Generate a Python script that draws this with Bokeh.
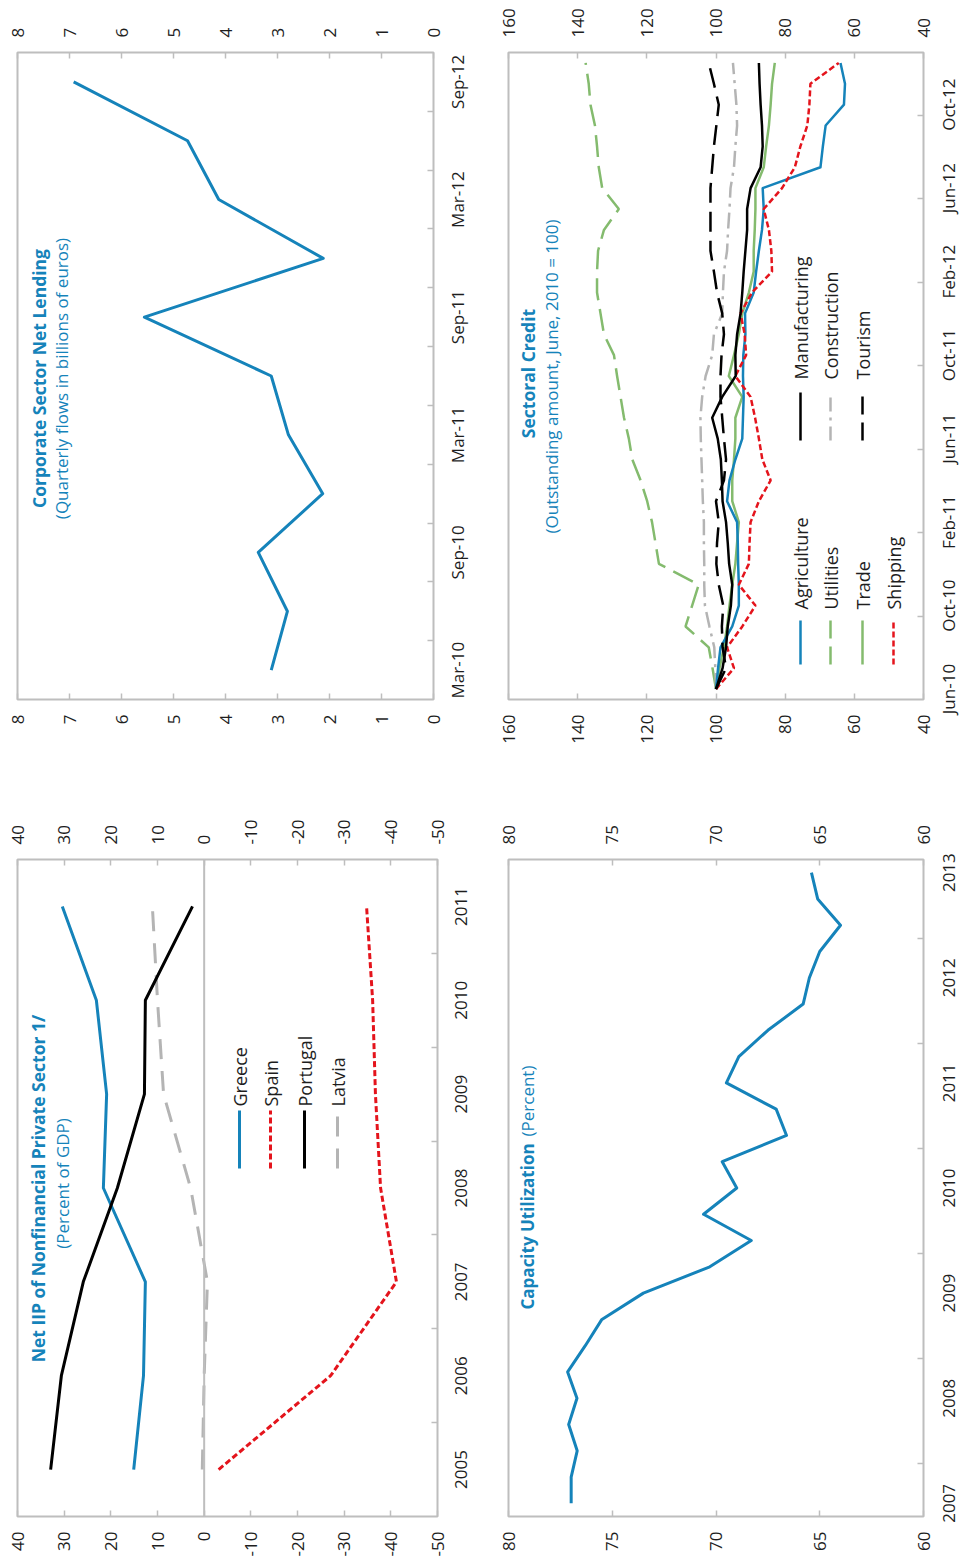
import math
from bokeh.plotting import figure
from bokeh.models import Range1d, LinearAxis, FixedTicker, Label, Span
from bokeh.layouts import column, row
from bokeh.embed import file_html
from bokeh.resources import INLINE
from bokeh.core.properties import value

# ---------------- data ----------------
corp_quarters = ["Mar-10", "Jun-10", "Sep-10", "Dec-10", "Mar-11", "Jun-11",
                 "Sep-11", "Dec-11", "Mar-12", "Jun-12", "Sep-12"]
corp_net_lending = [3.12, 2.81, 3.37, 2.13, 2.79, 3.12, 5.56, 2.12, 4.13, 4.73, 6.92]
corp_value_ticks = [0, 1, 2, 3, 4, 5, 6, 7, 8]

iip_years = ["2005", "2006", "2007", "2008", "2009", "2010", "2011"]
iip_greece = [15.1, 13.0, 12.6, 21.6, 20.9, 23.1, 30.4]
iip_spain = [-3.1, -27.1, -41.2, -37.8, -36.7, -36.1, -34.8]
iip_portugal = [32.9, 30.6, 25.9, 18.6, 12.8, 12.6, 2.5]
iip_latvia = [0.4, 0.0, -0.7, 2.9, 8.7, 10.0, 11.1]
iip_value_ticks = [40, 30, 20, 10, 0, -10, -20, -30, -40, -50]

cap_quarters = ["2007Q1", "2007Q2", "2007Q3", "2007Q4", "2008Q1", "2008Q2", "2008Q3", "2008Q4",
                "2009Q1", "2009Q2", "2009Q3", "2009Q4", "2010Q1", "2010Q2", "2010Q3", "2010Q4",
                "2011Q1", "2011Q2", "2011Q3", "2011Q4", "2012Q1", "2012Q2", "2012Q3", "2012Q4",
                "2013Q1"]
cap_utilization = [76.98, 76.98, 76.69, 77.1, 76.7, 77.15, 76.3, 75.5, 73.5, 70.3, 68.3, 70.6,
                   69.0, 69.7, 66.6, 67.1, 69.5, 68.9, 67.5, 65.8, 65.5, 65.0, 64.0, 65.1, 65.4]
cap_year_labels = ["2007", "2008", "2009", "2010", "2011", "2012", "2013"]
cap_value_ticks = [80, 75, 70, 65, 60]

sect_months = ["Jun-10", "Jul-10", "Aug-10", "Sep-10", "Oct-10", "Nov-10", "Dec-10",
               "Jan-11", "Feb-11", "Mar-11", "Apr-11", "May-11", "Jun-11", "Jul-11", "Aug-11",
               "Sep-11", "Oct-11", "Nov-11", "Dec-11", "Jan-12", "Feb-12", "Mar-12", "Apr-12",
               "May-12", "Jun-12", "Jul-12", "Aug-12", "Sep-12", "Oct-12", "Nov-12", "Dec-12"]
sect_agriculture = [100, 99.4, 98.7, 95.3, 93.4, 93.4, 93.6, 93.7, 93.9, 96.8, 96.1, 94.4, 92.4,
                    92.2, 92.0, 92.2, 92.1, 91.5, 91.6, 89.1, 88.4, 87.6, 86.7, 86.2, 86.5,
                    69.8, 69.1, 68.3, 63.0, 62.7, 64.0]
sect_utilities = [100, 101.0, 102.1, 108.8, 106.9, 105.0, 116.5, 117.5, 118.5, 119.9, 121.8,
                  124.2, 125.2, 126.6, 127.6, 128.6, 129.5, 132.4, 133.4, 134.4, 134.4, 134.1,
                  132.4, 128.1, 132.9, 133.9, 134.4, 135.0, 136.3, 136.8, 137.7]
sect_trade = [100, 99.0, 97.7, 96.8, 96.1, 95.3, 94.4, 93.9, 93.4, 95.3, 95.3, 94.8, 94.4, 94.4,
              92.4, 96.3, 94.8, 93.4, 92.4, 90.5, 89.1, 89.1, 88.8, 88.6, 88.6, 86.2, 85.5,
              84.7, 84.2, 83.8, 83.0]
sect_shipping = [100, 94.8, 96.8, 92.4, 88.6, 93.4, 90.5, 90.3, 90.0, 87.6, 84.2, 86.6, 87.6,
                 88.7, 90.0, 94.4, 91.3, 91.7, 92.9, 89.6, 83.8, 84.0, 84.7, 86.2, 80.9, 77.2,
                 75.6, 73.6, 73.0, 72.7, 64.5]
sect_manufacturing = [100, 98.1, 97.1, 96.6, 95.7, 95.3, 96.2, 96.6, 97.1, 98.1, 98.3, 98.6,
                      99.5, 101.1, 98.2, 94.3, 94.4, 93.9, 92.9, 92.4, 92.0, 91.5, 91.0, 91.0,
                      90.0, 87.1, 86.5, 86.7, 87.1, 87.4, 87.6]
sect_construction = [100, 100.2, 100.5, 101.9, 103.2, 103.4, 103.4, 103.5, 103.5, 103.8, 104.0,
                     104.2, 104.4, 104.5, 104.0, 103.0, 101.1, 100.6, 98.2, 98.0, 97.7, 96.8,
                     96.5, 96.1, 95.8, 94.8, 94.4, 93.9, 94.1, 94.6, 95.1]
sect_tourism = [100, 97.1, 98.1, 98.3, 97.9, 99.2, 99.9, 99.7, 99.2, 100.0, 97.7, 97.1, 97.7,
                98.2, 98.7, 98.7, 98.4, 97.7, 98.2, 99.7, 100.6, 101.6, 101.6, 101.6, 101.6,
                101.1, 100.6, 99.9, 99.2, 100.6, 102.1]
sect_value_ticks = [160, 140, 120, 100, 80, 60, 40]

# ---------------- style ----------------
FONT = "Open Sans"
BLUE = "#1583BA"
RED = "#E4141C"
GREEN = "#84BB6E"
GRAY = "#B4B4B4"
BLACK = "#000000"
FRAME = "#BEBEBE"
TXT = "#1E1E1E"
TICK_PX = 17
TICK_SIZE = "17px"
TITLE_SIZE = "17.5px"
SUB_SIZE = "17px"
KEY_SIZE = "18px"

# approximate Open Sans advance widths (em), used to centre rotated category labels
ADV = {"0": .572, "1": .572, "2": .572, "3": .572, "4": .572, "5": .572, "6": .572,
       "7": .572, "8": .572, "9": .572, "-": .322, "M": .903, "a": .556, "r": .408,
       "S": .536, "e": .561, "p": .613, "J": .266, "u": .614, "n": .614, "O": .781,
       "c": .476, "t": .353, "F": .509, "b": .613}


def text_len(s, px):
    return sum(ADV.get(ch, .57) for ch in s) * px


class Panel:
    def __init__(self, frame, origin, size, vrange, n):
        self.L, self.R, self.T, self.B = frame
        self.ox, self.oy = origin
        self.w, self.h = size
        self.v0, self.v1 = vrange
        self.n = n
        p = figure(width=self.w, height=self.h,
                   x_range=Range1d(self.v0, self.v1), y_range=Range1d(-0.5, n - 0.5),
                   output_backend="svg", toolbar_location=None,
                   x_axis_location=None, y_axis_location=None,
                   min_border_left=self.L - self.ox, min_border_right=self.ox + self.w - self.R,
                   min_border_top=self.T - self.oy, min_border_bottom=self.oy + self.h - self.B)
        p.grid.visible = False
        p.outline_line_color = FRAME
        p.outline_line_width = 2
        p.background_fill_color = "white"
        p.border_fill_color = "white"
        self.p = p

    # page pixel position -> data coordinates (used only to place annotations)
    def at(self, ix, iy):
        x = self.v0 + (ix - self.L) / (self.R - self.L) * (self.v1 - self.v0)
        y = -0.5 + (self.B - iy) / (self.B - self.T) * self.n
        return x, y

    def value_axes(self, ticks):
        for side in ("above", "below"):
            ax = LinearAxis(ticker=FixedTicker(ticks=ticks, minor_ticks=[]),
                            major_label_overrides={t: str(t) for t in ticks})
            ax.axis_line_color = None
            ax.major_tick_line_color = FRAME
            ax.major_tick_line_width = 1.5
            ax.major_tick_in = 6
            ax.major_tick_out = 0
            ax.minor_tick_line_color = None
            ax.major_label_text_font = FONT
            ax.major_label_text_font_size = TICK_SIZE
            ax.major_label_text_color = TXT
            ax.major_label_standoff = 15
            ax.major_label_orientation = math.pi / 2
            self.p.add_layout(ax, side)

    def boundary_ticks(self, boundaries, ticks=(), overrides=None, standoff=0):
        ax = LinearAxis(ticker=FixedTicker(ticks=list(ticks), minor_ticks=boundaries),
                        major_label_overrides=overrides or {})
        ax.axis_line_color = None
        ax.major_tick_line_color = None
        ax.major_tick_in = 0
        ax.major_tick_out = 0
        ax.minor_tick_line_color = FRAME
        ax.minor_tick_line_width = 1.5
        ax.minor_tick_in = 6
        ax.minor_tick_out = 0
        ax.major_label_text_font = FONT
        ax.major_label_text_font_size = TICK_SIZE
        ax.major_label_text_color = TXT
        ax.major_label_standoff = standoff
        ax.major_label_orientation = math.pi / 2
        self.p.add_layout(ax, "right")

    # category labels through the axis: the label starts at its tick, so the
    # tick is moved back by half the label length to centre it on its category
    def time_axis(self, labels, step, boundaries, standoff):
        per = (self.B - self.T) / self.n
        pos, ov = [], {}
        for k, i in enumerate(range(0, self.n, step)):
            t = round(i - text_len(labels[k], TICK_PX) / 2 / per, 4)
            pos.append(t)
            ov[t] = labels[k]
        self.boundary_ticks(boundaries, pos, ov, standoff)

    # a narrow strip plot to the right (its frame lines up with this panel's frame)
    # carrying the category labels on the same vertical scale
    def label_strip(self, labels, step, label_x, right_edge):
        x0 = self.ox + self.w
        sw = right_edge - x0
        s = figure(width=sw, height=self.h, x_range=Range1d(0, sw),
                   y_range=Range1d(-0.5, self.n - 0.5),
                   output_backend="svg", toolbar_location=None,
                   x_axis_location=None, y_axis_location=None,
                   min_border_left=0, min_border_right=0,
                   min_border_top=self.T - self.oy, min_border_bottom=self.oy + self.h - self.B)
        s.grid.visible = False
        s.outline_line_color = None
        s.background_fill_color = "white"
        s.border_fill_color = "white"
        idx = list(range(0, self.n, step))
        s.text(x=[label_x - x0] * len(idx), y=idx, text=labels, angle=math.pi / 2,
               text_align="center", text_baseline="middle", text_font=value(FONT),
               text_font_size=value(TICK_SIZE), text_color=TXT, level="overlay")
        return s

    def text(self, ix, iy, txt, size, color=TXT, bold=False, align="center"):
        x, y = self.at(ix, iy)
        self.p.add_layout(Label(x=x, y=y, text=txt, angle=math.pi / 2, text_align=align,
                                text_baseline="middle", text_font=FONT, text_font_size=size,
                                text_font_style="bold" if bold else "normal",
                                text_color=color))

    def key(self, ix, iy0, iy1, color, dash="solid", width=3):
        x0, y0 = self.at(ix, iy0)
        x1, y1 = self.at(ix, iy1)
        self.p.line(x=[x0, x1], y=[y0, y1], line_color=color, line_width=width, line_dash=dash)


SPLIT = 484
STRIP = 936

# ---------------- Corporate Sector Net Lending ----------------
A = Panel((17, 433, 52, 699), (0, 0), (SPLIT, 780), (8, 0), len(corp_quarters))
A.value_axes(corp_value_ticks)
A.time_axis(corp_quarters[::2], 2, [i + 0.5 for i in range(len(corp_quarters) - 1)], 24)
A.p.line(x=corp_net_lending, y=list(range(len(corp_quarters))), line_color=BLUE,
         line_width=3, line_join="round")
A.text(38, 378, "Corporate Sector Net Lending", TITLE_SIZE, BLUE, bold=True)
A.text(61, 378, "(Quarterly flows in billions of euros)", SUB_SIZE, BLUE)

# ---------------- Sectoral Credit ----------------
B = Panel((508, 923, 52, 699), (SPLIT, 0), (STRIP - SPLIT, 780), (160, 40), len(sect_months))
B.value_axes(sect_value_ticks)
B.boundary_ticks([k - 0.5 for k in range(4, len(sect_months), 4)])
B_strip = B.label_strip(sect_months[::4], 4, 948, 960)
ys = list(range(len(sect_months)))
B.p.line(x=sect_utilities, y=ys, line_color=GREEN, line_width=2.5, line_dash="22 9")
B.p.line(x=sect_construction, y=ys, line_color=GRAY, line_width=2.5, line_dash="16 6 3 6")
B.p.line(x=sect_trade, y=ys, line_color=GREEN, line_width=2.5, line_join="round")
B.p.line(x=sect_agriculture, y=ys, line_color=BLUE, line_width=2.5, line_join="round")
B.p.line(x=sect_shipping, y=ys, line_color=RED, line_width=2.5, line_dash="6 3")
B.p.line(x=sect_manufacturing, y=ys, line_color=BLACK, line_width=2.5, line_join="round")
B.p.line(x=sect_tourism, y=ys, line_color=BLACK, line_width=2.5, line_dash="20 9")
B.text(527, 373, "Sectoral Credit", TITLE_SIZE, BLUE, bold=True)
B.text(551, 376, "(Outstanding amount, June, 2010 = 100)", SUB_SIZE, BLUE)
legend_rows = [
    (800, "Agriculture", BLUE, "solid", "Manufacturing", BLACK, "solid"),
    (830, "Utilities", GREEN, "18 8", "Construction", GRAY, "14 6 3 6"),
    (862, "Trade", GREEN, "solid", "Tourism", BLACK, "18 8"),
    (893, "Shipping", RED, "6 3", None, None, None),
]
for x, t1, c1, d1, t2, c2, d2 in legend_rows:
    B.key(x, 664, 620, c1, d1, 2.5)
    B.text(x, 609, t1, KEY_SIZE, TXT, align="left")
    if t2:
        B.key(x, 440, 392, c2, d2, 2.5)
        B.text(x, 379, t2, KEY_SIZE, TXT, align="left")

# ---------------- Net IIP ----------------
C = Panel((17, 437, 859, 1516), (0, 780), (SPLIT, 787), (40, -50), len(iip_years))
C.value_axes(iip_value_ticks)
C.time_axis(iip_years, 1, [i + 0.5 for i in range(len(iip_years) - 1)], 24)
C.p.add_layout(Span(location=0, dimension="height", line_color=FRAME, line_width=2))
yi = list(range(len(iip_years)))
C.p.line(x=iip_latvia, y=yi, line_color=GRAY, line_width=3, line_dash="20 12")
C.p.line(x=iip_greece, y=yi, line_color=BLUE, line_width=3, line_join="round")
C.p.line(x=iip_spain, y=yi, line_color=RED, line_width=3, line_dash="6 3")
C.p.line(x=iip_portugal, y=yi, line_color=BLACK, line_width=3, line_join="round")
C.text(37, 1188, "Net IIP of Nonfinancial Private Sector 1/", TITLE_SIZE, BLUE, bold=True)
C.text(62, 1183, "(Percent of GDP)", SUB_SIZE, BLUE)
for x, name, col, dash in [(239, "Greece", BLUE, "solid"), (270, "Spain", RED, "6 3"),
                           (304, "Portugal", BLACK, "solid"), (337, "Latvia", GRAY, "20 12")]:
    C.key(x, 1168, 1110, col, dash, 3)
    C.text(x, 1106, name, KEY_SIZE, TXT, align="left")

# ---------------- Capacity Utilization ----------------
D = Panel((508, 923, 859, 1516), (SPLIT, 780), (STRIP - SPLIT, 787), (80, 60), len(cap_quarters))
D.value_axes(cap_value_ticks)
D.boundary_ticks([k + 0.5 for k in range(1, len(cap_quarters) - 1, 4)])
D_strip = D.label_strip(cap_year_labels, 4, 948, 960)
D.p.line(x=cap_utilization, y=list(range(len(cap_quarters))), line_color=BLUE,
         line_width=3, line_join="round")
D.text(527, 1309, "Capacity Utilization", "17px", BLUE, bold=True, align="left")
D.text(527, 1136, "(Percent)", SUB_SIZE, BLUE, align="left")

layout = column(row(A.p, B.p, B_strip), row(C.p, D.p, D_strip))
open("out.html", "w").write(file_html(layout, INLINE))
